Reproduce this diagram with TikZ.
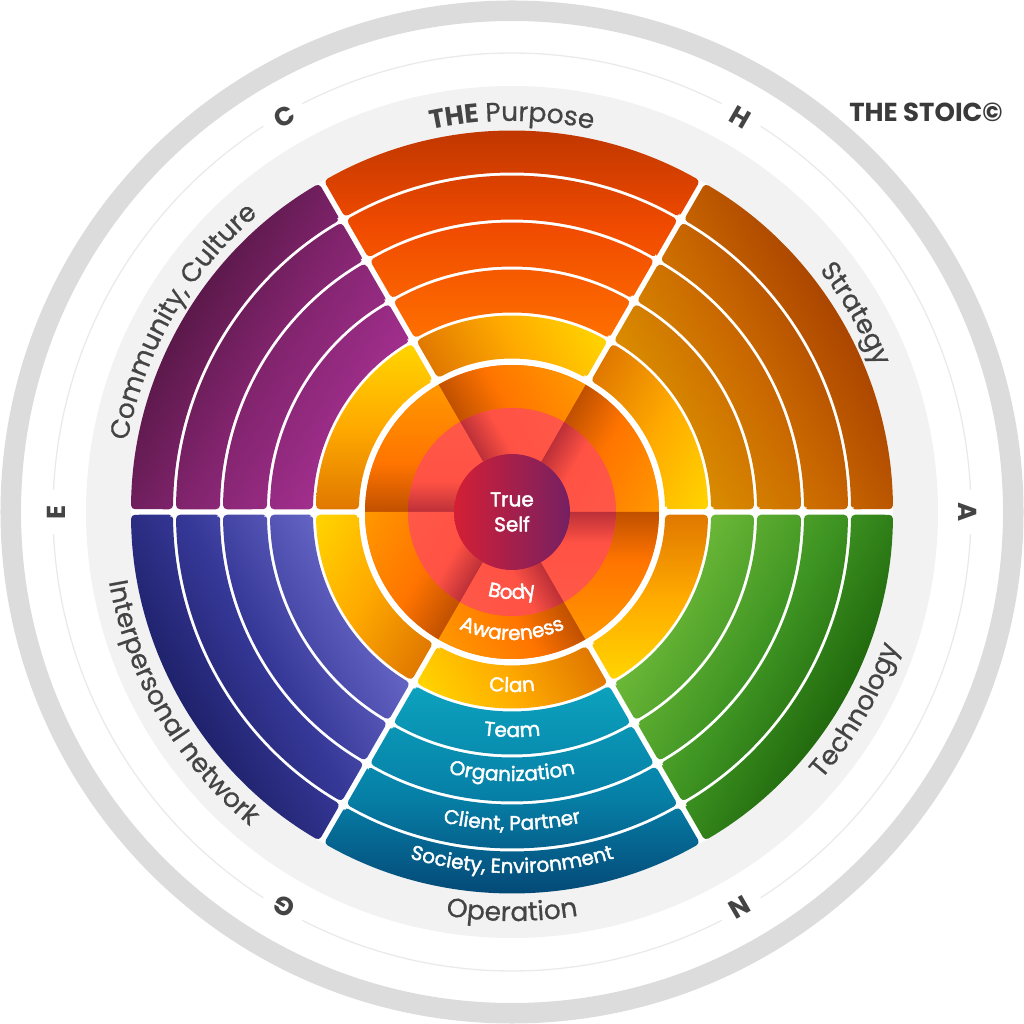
\documentclass[tikz,border=0pt]{standalone}
\usepackage{fontspec}
\setmainfont{Poppins}
\newfontfamily\pmed{Poppins}[FakeBold=2]
\newfontfamily\plbl{Poppins}[FakeBold=0.6]
\usetikzlibrary{decorations.text}

\definecolor{ringgray}{HTML}{DCDCDC}
\definecolor{bandgray}{HTML}{F2F2F2}
\definecolor{thingray}{HTML}{EAEAEA}
\definecolor{labelgray}{HTML}{444444}
\definecolor{stoicgray}{HTML}{3A3A3A}
% sector colours (outer, middle, inner)
\definecolor{puO}{HTML}{B83400}\definecolor{puM}{HTML}{F04A00}\definecolor{puI}{HTML}{FF7000}
\definecolor{stO}{HTML}{A64000}\definecolor{stM}{HTML}{C86600}\definecolor{stI}{HTML}{DA8C00}
\definecolor{teO}{HTML}{1C620A}\definecolor{teM}{HTML}{3E9422}\definecolor{teI}{HTML}{6CB838}
\definecolor{opO}{HTML}{044070}\definecolor{opM}{HTML}{067FA6}\definecolor{opI}{HTML}{0CA2BE}
\definecolor{inO}{HTML}{1B1E64}\definecolor{inM}{HTML}{363898}\definecolor{inI}{HTML}{6464C4}
\definecolor{coO}{HTML}{551744}\definecolor{coM}{HTML}{82246E}\definecolor{coI}{HTML}{A22F8E}
% pinwheel colours
\definecolor{clanD}{HTML}{E07800}\definecolor{clanM}{HTML}{FFAA00}\definecolor{clanL}{HTML}{FFD500}
\definecolor{awD}{HTML}{C05000}\definecolor{awM}{HTML}{FF7400}\definecolor{awL}{HTML}{FF9800}
\definecolor{bdD}{HTML}{BC3038}\definecolor{bdM}{HTML}{FF5244}\definecolor{bdL}{HTML}{FF5848}
\definecolor{tsL}{HTML}{D41F35}\definecolor{tsR}{HTML}{752062}

\pgfdeclarehorizontalshading{clanSh}{100bp}{color(0bp)=(clanD); color(25bp)=(clanD); color(50bp)=(clanM); color(75bp)=(clanL); color(100bp)=(clanL)}
\pgfdeclarehorizontalshading{awSh}{100bp}{color(0bp)=(awD); color(25bp)=(awD); color(44bp)=(awM); color(75bp)=(awL); color(100bp)=(awL)}
\pgfdeclarehorizontalshading{bdSh}{100bp}{color(0bp)=(bdD); color(25bp)=(bdD); color(42bp)=(bdM); color(75bp)=(bdL); color(100bp)=(bdL)}

\newcommand\gapw{2.75}
\newcommand\bandsub[4]{({#3+asin(\gapw/#1)}:#1) -- ({#3+asin(\gapw/#2)}:#2) arc[start angle={#3+asin(\gapw/#2)}, end angle={#4-asin(\gapw/#2)}, radius=#2] -- ({#4-asin(\gapw/#1)}:#1) arc[start angle={#4-asin(\gapw/#1)}, end angle={#3+asin(\gapw/#1)}, radius=#1] -- cycle}

\newcommand\sectorbands[2]{%
  \begin{scope}[transform canvas={rotate=#1}]
    \path[#2, rounded corners=4pt] \foreach \ri/\ro in {199/242,245/289,292/336,339/381} {\bandsub{\ri}{\ro}{60}{120}};
  \end{scope}}

\newcommand\pinsector[1]{%
  \begin{scope}[transform canvas={rotate=#1}]
    \shade[shading=clanSh, rounded corners=4pt] \bandsub{153}{196}{30}{90};
    \shade[shading=awSh] (30:104) -- (30:147) arc[start angle=30, end angle=90, radius=147] -- (90:104) arc[start angle=90, end angle=30, radius=104] -- cycle;
    \shade[shading=bdSh] (30:58) -- (30:104) arc[start angle=30, end angle=90, radius=104] -- (90:58) arc[start angle=90, end angle=30, radius=58] -- cycle;
  \end{scope}}

\newcommand\Lf{\plbl\fontsize{26.5}{26.5}\selectfont}
\newcommand\Lb{\bfseries\fontsize{26.5}{26.5}\selectfont}
\newcommand\If{\pmed\fontsize{20}{20}\selectfont}

\tikzset{
  curv/.style={decorate, decoration={text along path, text align=center, text color=labelgray, text={#1}}},
  curw/.style={decorate, decoration={text along path, text align=center, text color=white, text={#1}}},
  letter/.style={text=labelgray, font=\bfseries\fontsize{26}{26}\selectfont},
}

\begin{document}
\begin{tikzpicture}[x=1pt,y=1pt]
\useasboundingbox (-512,-512) rectangle (512,512);
% outer grey ring
\fill[ringgray, even odd rule] (0,0) circle (511.5) (0,0) circle (491);
% thin circle broken at the letters
\foreach \a in {0,60,...,300}
  \draw[thingray, line width=1.3] ({\a+2.8}:459) arc[start angle={\a+2.8}, end angle={\a+57.2}, radius=459];
% light label band
\fill[bandgray] (0,0) circle (426);
\fill[white] (0,0) circle (381);
% six sectors, four bands each
\sectorbands{0}{top color=puO, bottom color=puI, middle color=puM}
\sectorbands{-60}{top color=stO, bottom color=stI, middle color=stM}
\sectorbands{-120}{top color=teO, bottom color=teI, middle color=teM}
\sectorbands{180}{top color=opO, bottom color=opI, middle color=opM}
\sectorbands{120}{top color=inO, bottom color=inI, middle color=inM}
\sectorbands{60}{top color=coO, bottom color=coI, middle color=coM}
% inner rings
\fill[awM] (0,0) circle (147);
\fill[bdM] (0,0) circle (104);
\foreach \t in {-30,30,90,150,210,270} {\pinsector{\t}}
% true self
\shade[left color=tsL, right color=tsR] (0,0) circle (58);
\node[text=white, font=\pmed\fontsize{20}{25}\selectfont, align=center] (ts) at (0,0) {True\\Self};
% outer labels
\path[curv={|\Lb|THE |\Lf|Purpose}] (150:391) arc[start angle=150, end angle=30, radius=391];
\path[curv={|\Lf|Strategy}] (90:391) arc[start angle=90, end angle=-30, radius=391];
\path[curv={|\Lf|Community, Culture}] (210:391) arc[start angle=210, end angle=90, radius=391];
\path[curv={|\Lf|Technology}] (-90:409) arc[start angle=-90, end angle=30, radius=409];
\path[curv={|\Lf|Operation}] (210:409) arc[start angle=210, end angle=330, radius=409];
\path[curv={|\Lf|Interpersonal network}] (150:409) arc[start angle=150, end angle=270, radius=409];
% inner labels
\path[curw={|\If|Body}] (210:87) arc[start angle=210, end angle=330, radius=87];
\path[curw={|\If|Awareness}] (210:128) arc[start angle=210, end angle=330, radius=128];
\path[curw={|\If|Clan}] (210:180) arc[start angle=210, end angle=330, radius=180];
\path[curw={|\If|Team}] (210:225) arc[start angle=210, end angle=330, radius=225];
\path[curw={|\If|Organization}] (210:269) arc[start angle=210, end angle=330, radius=269];
\path[curw={|\If|Client, Partner}] (210:318) arc[start angle=210, end angle=330, radius=318];
\path[curw={|\If|Society, Environment}] (210:361) arc[start angle=210, end angle=330, radius=361];
% letters
\foreach \a/\l in {0/A,60/H,120/C,180/E,240/G,300/N}
  \node[letter, rotate=\a-90] (L\l) at (\a:456) {\l};
\node[text=stoicgray, font=\bfseries\fontsize{26}{26}\selectfont] (stoic) at (414,400) {THE STOIC©};
\end{tikzpicture}
\end{document}
